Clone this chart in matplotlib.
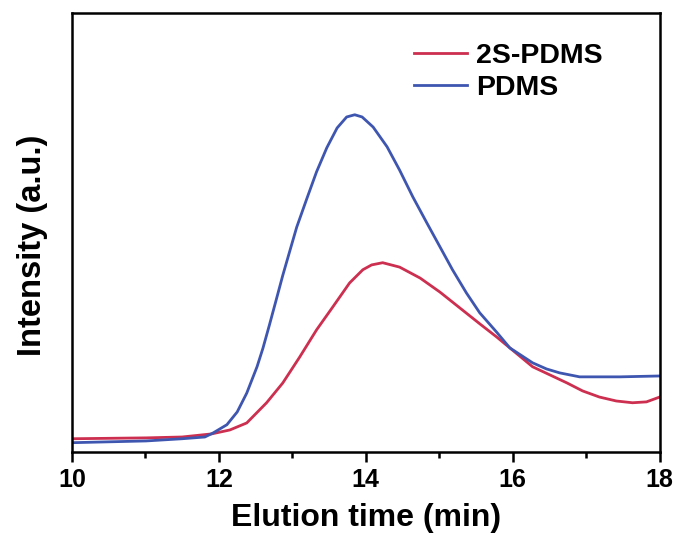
import matplotlib
matplotlib.use("Agg")
import matplotlib.pyplot as plt

plt.rcParams['font.family'] = ['Liberation Sans', 'DejaVu Sans']
plt.rcParams['font.weight'] = 'bold'

# GPC traces (elution time in min, intensity in a.u.)
t_pdms = [10.00, 11.01, 11.50, 11.81, 11.92, 12.11, 12.25, 12.38, 12.52, 12.60,
          12.69, 12.79, 12.87, 12.97, 13.06, 13.20, 13.33, 13.47, 13.61, 13.74,
          13.85, 13.95, 14.10, 14.29, 14.46, 14.64, 14.83, 15.01, 15.18, 15.37,
          15.55, 15.78, 15.96, 16.27, 16.46, 16.64, 16.91, 17.46, 18.00]
i_pdms = [0.021, 0.025, 0.030, 0.034, 0.043, 0.062, 0.091, 0.134, 0.194, 0.236,
          0.290, 0.352, 0.402, 0.460, 0.512, 0.578, 0.638, 0.693, 0.738, 0.763,
          0.768, 0.763, 0.740, 0.695, 0.642, 0.581, 0.522, 0.467, 0.415, 0.362,
          0.317, 0.273, 0.237, 0.203, 0.189, 0.180, 0.171, 0.171, 0.173]

t_2s = [10.00, 11.01, 11.50, 11.90, 12.15, 12.38, 12.65, 12.87, 13.10, 13.33,
        13.55, 13.78, 13.96, 14.08, 14.23, 14.46, 14.74, 15.01, 15.28, 15.55,
        15.78, 15.96, 16.27, 16.74, 16.95, 17.18, 17.41, 17.63, 17.82, 18.00]
i_2s = [0.030, 0.032, 0.034, 0.041, 0.050, 0.066, 0.112, 0.157, 0.216, 0.278,
        0.330, 0.385, 0.415, 0.426, 0.431, 0.421, 0.396, 0.364, 0.328, 0.292,
        0.262, 0.237, 0.194, 0.157, 0.139, 0.125, 0.116, 0.112, 0.114, 0.125]

fig = plt.figure(figsize=(6.78, 5.38), dpi=100)
ax = fig.add_axes([0.106, 0.160, 0.867, 0.816])

ax.plot(t_2s, i_2s, color='#cc2f4f', lw=2.0, label='2S-PDMS')
ax.plot(t_pdms, i_pdms, color='#3f56b0', lw=2.0, label='PDMS')

ax.set_xlim(10, 18)
ax.set_ylim(0, 1)
ax.set_xticks([10, 12, 14, 16, 18])
ax.set_xticks([11, 13, 15, 17], minor=True)
ax.set_yticks([])
ax.tick_params(axis='x', which='major', length=7, width=1.8, direction='out',
               labelsize=18, pad=4.5)
ax.tick_params(axis='x', which='minor', length=4, width=1.8, direction='out')
for s in ax.spines.values():
    s.set_linewidth(1.8)

ax.set_xlabel('Elution time (min)', fontsize=23, fontweight='bold', labelpad=8)
ax.set_ylabel('Intensity (a.u.)', fontsize=23.5, fontweight='bold')
ax.yaxis.set_label_coords(-0.041, 0.47)

ax.legend(loc='upper right', bbox_to_anchor=(0.946, 0.99), frameon=False,
          fontsize=20.5, handlelength=1.85, handletextpad=0.3, labelspacing=0.2)

fig.savefig('out.png', dpi=100)
